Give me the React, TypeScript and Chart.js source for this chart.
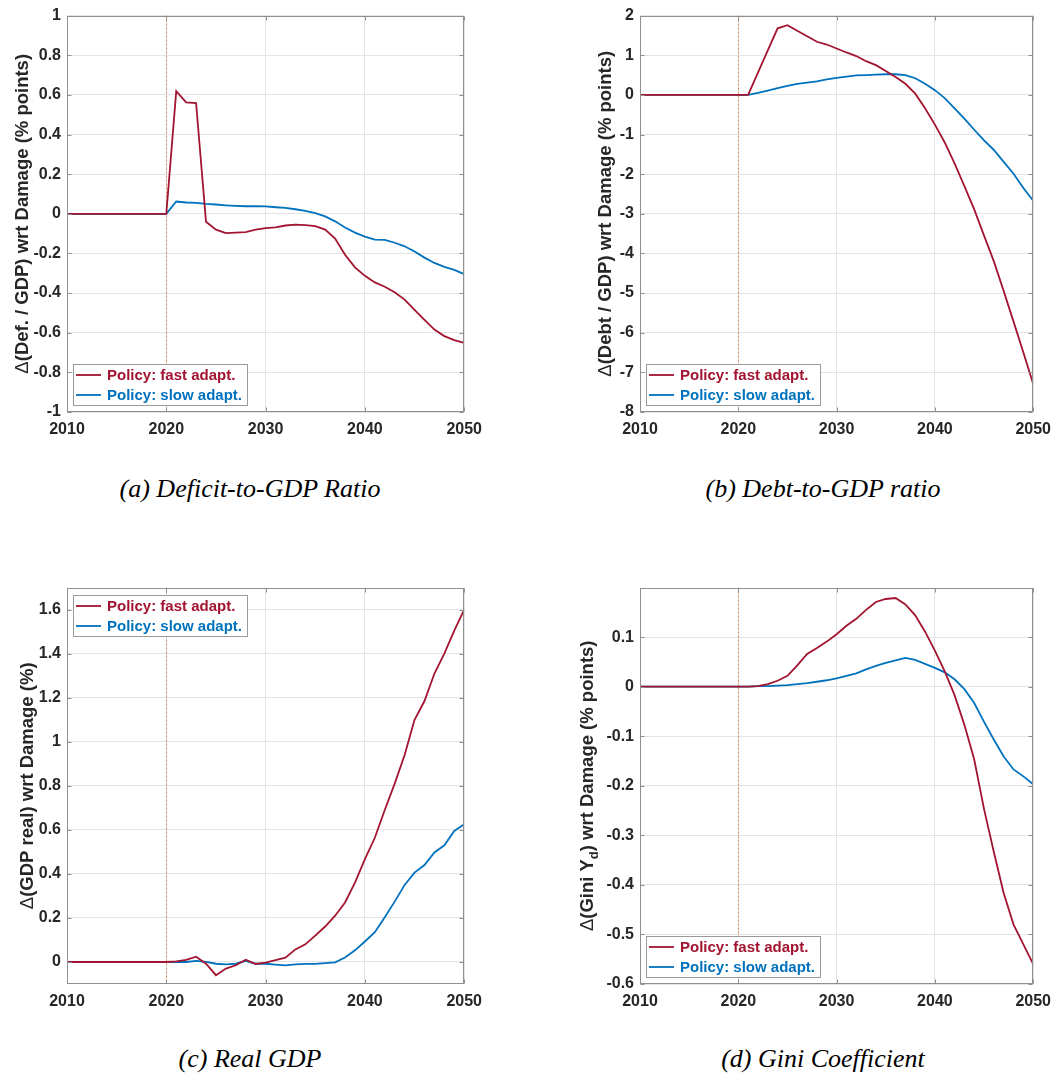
import React, { useEffect, useRef } from "react";
import { Chart, registerables } from "chart.js";

Chart.register(...registerables);

// ---------- data ----------
const years = [
  2010, 2011, 2012, 2013, 2014, 2015, 2016, 2017, 2018, 2019,
  2020, 2021, 2022, 2023, 2024, 2025, 2026, 2027, 2028, 2029,
  2030, 2031, 2032, 2033, 2034, 2035, 2036, 2037, 2038, 2039,
  2040, 2041, 2042, 2043, 2044, 2045, 2046, 2047, 2048, 2049, 2050,
];
const xTicks = [2010, 2020, 2030, 2040, 2050];
const policyYear = 2020;
const seriesLabels = ["Policy: fast adapt.", "Policy: slow adapt."];

const deficitFast = [
  0, 0, 0, 0, 0, 0, 0, 0, 0, 0,
  0, 0.619, 0.562, 0.559, -0.04, -0.08, -0.097, -0.095, -0.092, -0.08,
  -0.072, -0.069, -0.059, -0.055, -0.057, -0.062, -0.08, -0.125, -0.207, -0.27,
  -0.313, -0.346, -0.368, -0.396, -0.433, -0.485, -0.535, -0.584, -0.617, -0.637, -0.651,
];
const deficitSlow = [
  0, 0, 0, 0, 0, 0, 0, 0, 0, 0,
  0, 0.062, 0.057, 0.055, 0.05, 0.047, 0.043, 0.04, 0.038, 0.038,
  0.037, 0.033, 0.03, 0.023, 0.015, 0.003, -0.013, -0.038, -0.069, -0.095,
  -0.115, -0.13, -0.132, -0.146, -0.164, -0.19, -0.221, -0.248, -0.268, -0.283, -0.304,
];
const debtFast = [
  0, 0, 0, 0, 0, 0, 0, 0, 0, 0,
  0, 0, 0.56, 1.12, 1.68, 1.76, 1.62, 1.48, 1.34, 1.27,
  1.17, 1.07, 0.98, 0.85, 0.75, 0.6, 0.45, 0.28, 0.03, -0.34,
  -0.75, -1.2, -1.73, -2.3, -2.89, -3.55, -4.2, -4.95, -5.72, -6.5, -7.29,
];
const debtSlow = [
  0, 0, 0, 0, 0, 0, 0, 0, 0, 0,
  0, 0, 0.05, 0.11, 0.17, 0.23, 0.28, 0.31, 0.34, 0.39,
  0.43, 0.46, 0.49, 0.5, 0.51, 0.52, 0.52, 0.5, 0.42, 0.28,
  0.12, -0.08, -0.34, -0.6, -0.88, -1.15, -1.39, -1.69, -1.99, -2.35, -2.67,
];
const gdpFast = [
  0, 0, 0, 0, 0, 0, 0, 0, 0, 0,
  0, 0.003, 0.01, 0.024, -0.008, -0.06, -0.03, -0.015, 0.01, -0.009,
  -0.003, 0.008, 0.02, 0.057, 0.08, 0.12, 0.161, 0.21, 0.27, 0.36,
  0.467, 0.564, 0.69, 0.81, 0.94, 1.1, 1.185, 1.31, 1.4, 1.505, 1.6,
];
const gdpSlow = [
  0, 0, 0, 0, 0, 0, 0, 0, 0, 0,
  0, 0, 0, 0.005, 0, -0.008, -0.011, -0.008, 0.005, -0.008,
  -0.008, -0.012, -0.015, -0.011, -0.009, -0.009, -0.005, -0.002, 0.02, 0.053,
  0.093, 0.135, 0.203, 0.274, 0.35, 0.406, 0.44, 0.497, 0.53, 0.595, 0.625,
];
const giniFast = [
  0, 0, 0, 0, 0, 0, 0, 0, 0, 0,
  0, 0, 0.001, 0.005, 0.012, 0.022, 0.043, 0.066, 0.078, 0.091,
  0.106, 0.123, 0.137, 0.155, 0.171, 0.177, 0.179, 0.166, 0.144, 0.111,
  0.073, 0.031, -0.017, -0.077, -0.147, -0.247, -0.334, -0.417, -0.48, -0.52, -0.56,
];
const giniSlow = [
  0, 0, 0, 0, 0, 0, 0, 0, 0, 0,
  0, 0, 0.001, 0.0013, 0.002, 0.003, 0.005, 0.007, 0.01, 0.013,
  0.017, 0.022, 0.027, 0.035, 0.042, 0.048, 0.053, 0.058, 0.054, 0.046,
  0.038, 0.029, 0.015, -0.005, -0.033, -0.071, -0.107, -0.141, -0.167, -0.181, -0.197,
];

const deficitTicks = [-1, -0.8, -0.6, -0.4, -0.2, 0, 0.2, 0.4, 0.6, 0.8, 1];
const debtTicks = [-8, -7, -6, -5, -4, -3, -2, -1, 0, 1, 2];
const gdpTicks = [0, 0.2, 0.4, 0.6, 0.8, 1, 1.2, 1.4, 1.6];
const giniTicks = [-0.6, -0.5, -0.4, -0.3, -0.2, -0.1, 0, 0.1];

// ---------- styles ----------
const FAST_COLOR = "#A2142F";
const SLOW_COLOR = "#0072BD";
const SANS = "'Liberation Sans', Arial, Helvetica, sans-serif";
const TEXT_COLOR = "#262626";
const GRID_COLOR = "#e4e4e4";
const BOX_COLOR = "#8f8f8f";

type Part = { t: string; weight?: string; sub?: boolean };

type Panel = {
  key: string;
  caption: string;
  left: number;
  top: number;
  width: number;
  height: number;
  padRight: number;
  yWidth: number;
  fast: number[];
  slow: number[];
  yMin: number;
  yMax: number;
  yTicks: number[];
  title: Part[];
  titleX: number;
  legendAt: "bottom" | "top";
  captionX: number;
  captionY: number;
};

const panels: Panel[] = [
  {
    key: "a",
    caption: "(a) Deficit-to-GDP Ratio",
    left: 0, top: 0, width: 490, height: 440, padRight: 25, yWidth: 67,
    fast: deficitFast, slow: deficitSlow,
    yMin: -1, yMax: 1, yTicks: deficitTicks,
    title: [{ t: "Δ", weight: "normal" }, { t: "(Def. / GDP) wrt Damage (% points)" }],
    titleX: 21, legendAt: "bottom", captionX: 250, captionY: 489,
  },
  {
    key: "b",
    caption: "(b) Debt-to-GDP ratio",
    left: 570, top: 0, width: 489, height: 440, padRight: 21, yWidth: 70,
    fast: debtFast, slow: debtSlow,
    yMin: -8, yMax: 2, yTicks: debtTicks,
    title: [{ t: "Δ", weight: "normal" }, { t: "(Debt / GDP) wrt Damage (% points)" }],
    titleX: 34, legendAt: "bottom", captionX: 823, captionY: 489,
  },
  {
    key: "c",
    caption: "(c) Real GDP",
    left: 0, top: 572, width: 490, height: 440, padRight: 25, yWidth: 67,
    fast: gdpFast, slow: gdpSlow,
    yMin: -0.1, yMax: 1.7, yTicks: gdpTicks,
    title: [{ t: "Δ", weight: "normal" }, { t: "(GDP real) wrt Damage (%)" }],
    titleX: 26, legendAt: "top", captionX: 250, captionY: 1059,
  },
  {
    key: "d",
    caption: "(d) Gini Coefficient",
    left: 570, top: 572, width: 489, height: 440, padRight: 21, yWidth: 70,
    fast: giniFast, slow: giniSlow,
    yMin: -0.6, yMax: 0.2, yTicks: giniTicks,
    title: [
      { t: "Δ", weight: "normal" },
      { t: "(Gini Y" },
      { t: "d", sub: true },
      { t: ") wrt Damage (% points)" },
    ],
    titleX: 16, legendAt: "bottom", captionX: 823, captionY: 1059,
  },
];

// ---------- plugins ----------
const markerPlugin = {
  id: "policyMarker",
  beforeDatasetsDraw(chart: any) {
    const { ctx, chartArea, scales } = chart;
    const x = Math.round(scales.x.getPixelForValue(policyYear)) + 0.5;
    ctx.save();
    ctx.strokeStyle = "rgba(214,120,60,0.85)";
    ctx.lineWidth = 1;
    ctx.setLineDash([2, 2]);
    ctx.beginPath();
    ctx.moveTo(x, chartArea.top);
    ctx.lineTo(x, chartArea.bottom);
    ctx.stroke();
    ctx.restore();
  },
};

const framePlugin = {
  id: "frameBox",
  afterDatasetsDraw(chart: any) {
    const { ctx, chartArea, scales } = chart;
    const l = Math.round(chartArea.left) + 0.5;
    const r = Math.round(chartArea.right) - 0.5;
    const t = Math.round(chartArea.top) + 0.5;
    const b = Math.round(chartArea.bottom) - 0.5;
    ctx.save();
    ctx.strokeStyle = BOX_COLOR;
    ctx.lineWidth = 1;
    ctx.strokeRect(l, t, r - l, b - t);
    const tl = 4;
    ctx.beginPath();
    for (const tk of scales.y.ticks) {
      const y = Math.round(scales.y.getPixelForValue(tk.value)) + 0.5;
      ctx.moveTo(l, y); ctx.lineTo(l + tl, y);
      ctx.moveTo(r, y); ctx.lineTo(r - tl, y);
    }
    for (const tk of scales.x.ticks) {
      const x = Math.round(scales.x.getPixelForValue(tk.value)) + 0.5;
      ctx.moveTo(x, b); ctx.lineTo(x, b - tl);
      ctx.moveTo(x, t); ctx.lineTo(x, t + tl);
    }
    ctx.stroke();
    ctx.restore();
  },
};

const boxLegendPlugin = {
  id: "boxLegend",
  afterDraw(chart: any, _args: any, opts: any) {
    const { ctx, chartArea } = chart;
    const ds = chart.data.datasets;
    ctx.save();
    ctx.font = `bold 15px ${SANS}`;
    let maxW = 0;
    for (const d of ds) maxW = Math.max(maxW, ctx.measureText(d.label).width);
    const w = Math.round(34 + maxW + 5);
    const h = 41;
    const x0 = Math.round(chartArea.left) + 6;
    const y0 = opts.at === "top"
      ? Math.round(chartArea.top) + 7
      : Math.round(chartArea.bottom) - 7 - h;
    ctx.fillStyle = "#ffffff";
    ctx.fillRect(x0, y0, w, h);
    ctx.strokeStyle = "#9a9a9a";
    ctx.lineWidth = 1;
    ctx.strokeRect(x0 + 0.5, y0 + 0.5, w, h);
    ds.forEach((d: any, i: number) => {
      const cy = y0 + 11 + i * 20;
      ctx.strokeStyle = d.borderColor;
      ctx.lineWidth = 1.8;
      ctx.beginPath();
      ctx.moveTo(x0 + 3, cy);
      ctx.lineTo(x0 + 28, cy);
      ctx.stroke();
      ctx.fillStyle = d.borderColor;
      ctx.textBaseline = "middle";
      ctx.textAlign = "left";
      ctx.fillText(d.label, x0 + 34, cy + 1);
    });
    ctx.restore();
  },
};

const yTitlePlugin = {
  id: "yTitle",
  afterDraw(chart: any, _args: any, opts: any) {
    const { ctx, chartArea } = chart;
    const parts: Part[] = opts.parts || [];
    const size = 18.5;
    const subSize = 13;
    const fontFor = (p: Part) =>
      `${p.weight || "bold"} ${p.sub ? subSize : size}px ${SANS}`;
    ctx.save();
    let total = 0;
    const widths = parts.map((p) => {
      ctx.font = fontFor(p);
      const w = ctx.measureText(p.t).width;
      total += w;
      return w;
    });
    const cy = (chartArea.top + chartArea.bottom) / 2;
    ctx.translate(opts.x, cy);
    ctx.rotate(-Math.PI / 2);
    ctx.fillStyle = TEXT_COLOR;
    ctx.textBaseline = "alphabetic";
    ctx.textAlign = "left";
    let cx = -total / 2;
    const base = size * 0.36;
    parts.forEach((p, i) => {
      ctx.font = fontFor(p);
      ctx.fillText(p.t, cx, p.sub ? base + 5 : base);
      cx += widths[i];
    });
    ctx.restore();
  },
};

// ---------- components ----------
function PanelChart({ p }: { p: Panel }) {
  const ref = useRef<HTMLCanvasElement | null>(null);

  useEffect(() => {
    if (!ref.current) return;
    const tickFont = { family: SANS, size: 16, weight: "bold" as const };
    const chart = new Chart(ref.current, {
      type: "line",
      data: {
        datasets: [
          {
            label: seriesLabels[0],
            data: years.map((yr, i) => ({ x: yr, y: p.fast[i] })),
            borderColor: FAST_COLOR,
            backgroundColor: FAST_COLOR,
            borderWidth: 1.8,
            pointRadius: 0,
            tension: 0,
          },
          {
            label: seriesLabels[1],
            data: years.map((yr, i) => ({ x: yr, y: p.slow[i] })),
            borderColor: SLOW_COLOR,
            backgroundColor: SLOW_COLOR,
            borderWidth: 1.8,
            pointRadius: 0,
            tension: 0,
          },
        ],
      },
      options: {
        responsive: false,
        animation: false,
        events: [],
        devicePixelRatio: 1,
        layout: { padding: { top: 14, right: p.padRight, bottom: 0, left: 0 } },
        scales: {
          x: {
            type: "linear",
            min: years[0],
            max: years[years.length - 1],
            afterBuildTicks: (s: any) => {
              s.ticks = xTicks.map((v) => ({ value: v }));
            },
            afterFit: (s: any) => {
              s.height = 28;
            },
            ticks: {
              font: tickFont,
              color: TEXT_COLOR,
              padding: 8,
              maxRotation: 0,
              autoSkip: false,
              callback: (v: any) => String(v),
            },
            grid: { color: GRID_COLOR, drawTicks: false, lineWidth: 1 },
            border: { display: false },
          },
          y: {
            type: "linear",
            min: p.yMin,
            max: p.yMax,
            afterBuildTicks: (s: any) => {
              s.ticks = p.yTicks.map((v) => ({ value: v }));
            },
            afterFit: (s: any) => {
              s.width = p.yWidth;
            },
            ticks: {
              font: tickFont,
              color: TEXT_COLOR,
              padding: 6,
              autoSkip: false,
              callback: (v: any) => String(v),
            },
            grid: { color: GRID_COLOR, drawTicks: false, lineWidth: 1 },
            border: { display: false },
          },
        },
        plugins: {
          legend: { display: false },
          tooltip: { enabled: false },
          boxLegend: { at: p.legendAt },
          yTitle: { parts: p.title, x: p.titleX },
        } as any,
      },
      plugins: [markerPlugin, framePlugin, boxLegendPlugin, yTitlePlugin],
    } as any);
    return () => chart.destroy();
  }, [p]);

  return (
    <canvas
      ref={ref}
      width={p.width}
      height={p.height}
      style={{
        position: "absolute",
        left: p.left,
        top: p.top,
        width: p.width,
        height: p.height,
      }}
    />
  );
}

export default function App() {
  return (
    <div
      style={{
        position: "absolute",
        left: 0,
        top: 0,
        width: 1059,
        height: 1074,
        overflow: "hidden",
        background: "#ffffff",
      }}
    >
      {panels.map((p) => (
        <PanelChart key={p.key} p={p} />
      ))}
      {panels.map((p) => (
        <div
          key={"cap-" + p.key}
          style={{
            position: "absolute",
            left: p.captionX - 250,
            top: p.captionY - 16,
            width: 500,
            height: 32,
            lineHeight: "32px",
            textAlign: "center",
            fontFamily: "'Liberation Serif', 'Times New Roman', serif",
            fontStyle: "italic",
            fontSize: 26,
            color: "#000000",
            whiteSpace: "nowrap",
          }}
        >
          {p.caption}
        </div>
      ))}
    </div>
  );
}
